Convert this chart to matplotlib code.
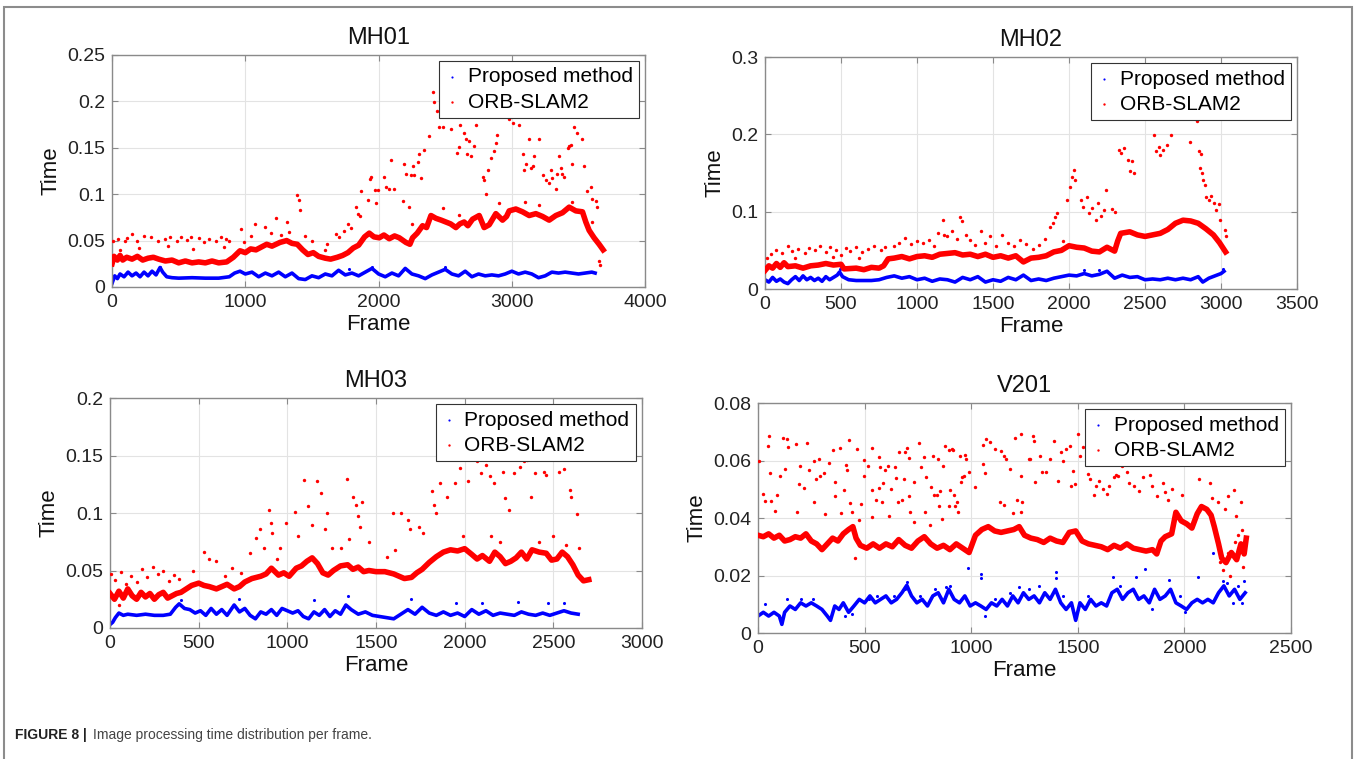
import matplotlib.pyplot as plt
from matplotlib.patches import Rectangle
from matplotlib.ticker import FuncFormatter

plt.rcParams['font.family'] = ['Liberation Sans', 'DejaVu Sans']

# ---- MH01 ----
mh01_prop = [(0, .004), (20, .012), (40, .009), (60, .014), (90, .011), (120, .016), (150, .012),
             (180, .015), (210, .011), (240, .016), (270, .012), (300, .017), (330, .013), (360, .021),
             (380, .016), (410, .011), (450, .010), (500, .0095), (600, .010), (700, .0095), (800, .0095),
             (880, .011), (920, .015), (960, .017), (1000, .014), (1050, .016), (1100, .011), (1150, .015),
             (1200, .012), (1250, .016), (1300, .011), (1350, .015), (1400, .009), (1450, .008), (1500, .012),
             (1550, .010), (1600, .014), (1650, .012), (1700, .018), (1750, .013), (1800, .015), (1850, .012),
             (1900, .016), (1950, .020), (2000, .014), (2050, .011), (2100, .015), (2150, .012), (2200, .020),
             (2250, .014), (2300, .012), (2350, .009), (2400, .013), (2450, .016), (2500, .019), (2550, .014),
             (2600, .012), (2650, .017), (2700, .011), (2750, .014), (2800, .012), (2850, .013), (2900, .012),
             (2950, .014), (3000, .017), (3050, .014), (3100, .016), (3150, .014), (3200, .010), (3250, .012),
             (3300, .016), (3350, .015), (3400, .016), (3450, .015), (3500, .014), (3550, .015), (3600, .016),
             (3625, .015)]
mh01_prop_out = [(1780, .019), (2500, .022), (1950, .021), (360, .022)]
mh01_orb = [(0, .025), (15, .033), (40, .029), (60, .034), (80, .029), (110, .032), (150, .030), (190, .033),
            (230, .029), (270, .031), (310, .032), (350, .030), (400, .028), (450, .029), (500, .026),
            (550, .028), (600, .026), (650, .027), (700, .026), (750, .028), (800, .026), (860, .027),
            (910, .032), (960, .039), (1000, .037), (1040, .041), (1080, .040), (1120, .043), (1160, .046),
            (1200, .044), (1260, .048), (1310, .050), (1350, .047), (1390, .046), (1430, .040), (1470, .035),
            (1510, .037), (1550, .033), (1600, .031), (1640, .030), (1690, .032), (1730, .034), (1770, .037),
            (1810, .042), (1850, .045), (1895, .054), (1930, .058), (1965, .054), (2005, .053), (2040, .056),
            (2080, .052), (2120, .055), (2155, .053), (2205, .048), (2235, .046), (2255, .053), (2290, .058),
            (2330, .066), (2360, .064), (2393, .077), (2430, .074), (2470, .072), (2505, .070), (2540, .068),
            (2580, .064), (2610, .068), (2642, .070), (2670, .066), (2705, .073), (2755, .077), (2792, .064),
            (2830, .067), (2880, .079), (2930, .072), (2960, .076), (2980, .082), (3030, .084), (3080, .081),
            (3130, .077), (3180, .079), (3230, .076), (3280, .072), (3330, .077), (3380, .080), (3430, .086),
            (3480, .082), (3530, .081), (3555, .070), (3580, .061), (3617, .053), (3655, .046), (3685, .040)]
mh01_orb_out = [(5, .050), (47, .052), (98, .050), (113, .053), (151, .057), (189, .050), (239, .055),
                (290, .054), (346, .050), (396, .052), (434, .054), (484, .050), (514, .054), (564, .051),
                (595, .054), (653, .053), (690, .049), (731, .052), (781, .050), (819, .054), (857, .052),
                (874, .050), (60, .040), (200, .042), (420, .044), (610, .041), (840, .043),
                (967, .062), (987, .048), (1076, .068), (1151, .065), (1227, .074), (1315, .070), (1328, .059),
                (1391, .099), (1400, .094), (1408, .083), (1040, .055), (1190, .058), (1270, .056), (1450, .055),
                (1500, .050), (1612, .046), (1680, .057), (1700, .054), (1770, .068), (1795, .064), (1832, .086),
                (1845, .079), (1858, .077), (1870, .103), (1920, .094), (1933, .116), (1945, .119), (1970, .104),
                (1983, .090), (1996, .104), (1600, .040), (1740, .060),
                (2042, .119), (2055, .108), (2080, .106), (2092, .137), (2117, .106), (2180, .093), (2192, .133),
                (2205, .122), (2230, .086), (2242, .121), (2255, .130), (2267, .121), (2292, .135), (2305, .143),
                (2317, .117), (2342, .148), (2380, .163), (2405, .210), (2418, .199), (2442, .190), (2455, .172),
                (2480, .172), (2542, .170), (2592, .144), (2605, .151), (2612, .175), (2642, .166), (2655, .159),
                (2667, .143), (2680, .157), (2692, .141), (2717, .152), (2730, .175), (2780, .119), (2792, .115),
                (2805, .100), (2818, .126), (2843, .139), (2868, .146), (2892, .164), (2880, .155), (2980, .181),
                (3005, .177), (3055, .175), (3080, .143), (3092, .126), (3105, .132), (3130, .159), (3142, .128),
                (3155, .130), (3168, .141), (3205, .159), (3230, .121), (3255, .115), (3280, .112), (3292, .126),
                (3305, .117), (3330, .106), (3342, .122), (3355, .141), (3367, .128), (3380, .122), (3392, .119),
                (3418, .150), (3430, .152), (3442, .153), (3455, .132), (3467, .172), (3492, .166), (3530, .159),
                (3542, .130), (3567, .103), (3592, .108), (3605, .095), (3630, .093), (3642, .086), (3655, .028),
                (3660, .024), (2250, .068), (2480, .085), (2600, .078), (2900, .090), (3100, .092), (3200, .088),
                (3450, .092), (3600, .070)]

# ---- MH02 ----
mh02_prop = [(0, .012), (25, .009), (50, .015), (75, .010), (100, .013), (125, .009), (150, .007), (175, .012),
             (200, .016), (225, .011), (250, .017), (275, .012), (300, .015), (325, .011), (350, .014),
             (375, .010), (400, .016), (425, .012), (450, .015), (475, .018), (490, .022), (510, .016),
             (550, .012), (600, .011), (650, .011), (700, .011), (750, .012), (800, .015), (850, .017),
             (900, .014), (950, .016), (1000, .012), (1050, .014), (1100, .010), (1150, .013), (1200, .012),
             (1250, .009), (1300, .015), (1350, .012), (1400, .016), (1450, .009), (1500, .012), (1550, .010),
             (1600, .015), (1650, .012), (1700, .018), (1750, .011), (1800, .013), (1850, .011), (1900, .014),
             (1950, .016), (2000, .018), (2050, .017), (2100, .020), (2150, .017), (2200, .019), (2250, .023),
             (2300, .014), (2350, .018), (2400, .015), (2450, .016), (2500, .012), (2550, .013), (2600, .012),
             (2650, .014), (2700, .012), (2750, .014), (2800, .012), (2850, .016), (2880, .009), (2920, .014),
             (2960, .017), (3000, .020), (3020, .023)]
mh02_prop_out = [(490, .026), (2100, .025), (2200, .025), (3010, .026)]
mh02_orb = [(0, .024), (25, .030), (50, .027), (75, .033), (100, .028), (125, .034), (150, .029), (200, .030),
            (250, .027), (300, .030), (350, .031), (400, .033), (450, .031), (500, .032), (520, .026),
            (600, .027), (650, .025), (700, .028), (750, .027), (780, .030), (810, .039), (850, .040),
            (900, .042), (950, .039), (1000, .042), (1050, .043), (1100, .041), (1150, .045), (1200, .046),
            (1250, .047), (1300, .044), (1350, .045), (1400, .042), (1450, .045), (1500, .041), (1550, .043),
            (1600, .040), (1650, .043), (1700, .035), (1750, .040), (1800, .041), (1850, .043), (1900, .048),
            (1950, .050), (2000, .056), (2050, .054), (2100, .053), (2150, .049), (2200, .048), (2250, .054),
            (2300, .049), (2320, .062), (2340, .072), (2400, .074), (2450, .070), (2500, .068), (2550, .070),
            (2600, .072), (2650, .077), (2700, .085), (2750, .089), (2800, .088), (2850, .085), (2900, .078),
            (2950, .070), (2990, .060), (3030, .048)]
mh02_orb_out = [(10, .040), (40, .045), (70, .050), (110, .047), (150, .055), (180, .049), (220, .052),
                (260, .046), (290, .053), (330, .050), (360, .055), (400, .048), (430, .054), (470, .051),
                (500, .044), (530, .053), (560, .049), (600, .054), (640, .048), (680, .052), (720, .056),
                (760, .050), (790, .054), (200, .040), (450, .042), (620, .040),
                (850, .055), (880, .060), (920, .066), (960, .058), (1000, .062), (1040, .060), (1080, .063),
                (1110, .055), (1140, .072), (1170, .089), (1180, .070), (1200, .068), (1230, .075), (1260, .065),
                (1283, .093), (1295, .088), (1320, .070), (1350, .064), (1380, .057), (1420, .075), (1450, .060),
                (1480, .068), (1520, .055), (1560, .070), (1600, .060), (1640, .055), (1680, .063), (1720, .058),
                (1760, .052), (1800, .057), (1840, .065), (1878, .080), (1895, .085), (1906, .093), (1920, .098),
                (1960, .062), (1990, .115), (2005, .132), (2020, .145), (2033, .154), (2040, .141), (2076, .115),
                (2090, .106), (2118, .119), (2130, .098), (2150, .105), (2175, .089), (2190, .111), (2210, .095),
                (2230, .102), (2246, .128), (2280, .104), (2300, .100), (2331, .180), (2345, .176), (2359, .182),
                (2387, .167), (2400, .152), (2415, .165), (2430, .150), (2557, .199), (2571, .178), (2590, .184),
                (2600, .173), (2620, .180), (2642, .186), (2670, .199), (2798, .190), (2840, .217), (2855, .178),
                (2870, .175), (2862, .156), (2875, .150), (2883, .141), (2895, .134), (2902, .119), (2920, .115),
                (2935, .120), (2954, .111), (2970, .102), (2985, .110), (2996, .089), (3025, .076), (3030, .068)]

# ---- MH03 ----
mh03_prop = [(0, .003), (15, .005), (30, .009), (50, .013), (75, .011), (100, .012), (150, .011), (200, .012),
             (250, .011), (300, .011), (340, .012), (370, .018), (390, .021), (420, .017), (450, .016),
             (480, .013), (510, .015), (540, .011), (570, .017), (600, .012), (630, .016), (660, .011),
             (700, .020), (730, .014), (760, .017), (790, .011), (820, .008), (850, .014), (880, .012),
             (910, .016), (940, .011), (970, .017), (1000, .015), (1030, .013), (1060, .015), (1090, .010),
             (1120, .008), (1150, .014), (1180, .011), (1210, .016), (1240, .010), (1270, .015), (1300, .012),
             (1330, .020), (1360, .016), (1400, .012), (1440, .014), (1480, .011), (1520, .010), (1560, .009),
             (1600, .008), (1640, .012), (1680, .016), (1720, .012), (1760, .018), (1800, .013), (1840, .011),
             (1880, .014), (1920, .011), (1960, .013), (2000, .010), (2040, .016), (2080, .012), (2120, .015),
             (2160, .011), (2200, .013), (2240, .012), (2280, .011), (2320, .014), (2360, .012), (2400, .011),
             (2440, .013), (2480, .011), (2520, .013), (2560, .015), (2600, .013), (2640, .012)]
mh03_prop_out = [(730, .025), (1340, .028), (1700, .025), (1950, .022), (2100, .022), (2300, .023),
                 (2470, .022), (2560, .022), (400, .024), (1150, .024)]
mh03_orb = [(0, .030), (25, .025), (50, .032), (75, .026), (100, .034), (125, .028), (150, .025), (175, .031),
            (200, .027), (225, .030), (250, .025), (275, .029), (300, .031), (325, .026), (350, .028),
            (375, .030), (400, .031), (430, .034), (460, .037), (500, .039), (530, .037), (560, .036),
            (600, .034), (630, .036), (660, .038), (700, .034), (730, .036), (760, .040), (800, .043),
            (850, .045), (880, .047), (910, .052), (950, .046), (980, .048), (1010, .045), (1050, .052),
            (1080, .054), (1110, .058), (1140, .061), (1170, .056), (1200, .048), (1230, .046), (1260, .050),
            (1300, .054), (1340, .055), (1370, .051), (1400, .053), (1430, .049), (1460, .050), (1500, .049),
            (1550, .049), (1600, .047), (1630, .045), (1660, .043), (1700, .044), (1730, .048), (1760, .051),
            (1800, .057), (1840, .062), (1880, .066), (1920, .068), (1960, .067), (2000, .069), (2040, .064),
            (2070, .060), (2100, .063), (2140, .058), (2170, .066), (2200, .062), (2230, .056), (2260, .058),
            (2290, .061), (2320, .066), (2350, .060), (2380, .068), (2420, .066), (2460, .065), (2490, .059),
            (2520, .060), (2550, .066), (2580, .062), (2610, .055), (2640, .046), (2670, .041), (2700, .042)]
mh03_orb_out = [(5, .047), (30, .042), (60, .049), (90, .038), (120, .045), (150, .040), (180, .051),
                (210, .044), (240, .053), (270, .047), (300, .050), (330, .041), (360, .046), (390, .043),
                (50, .020), (470, .050), (530, .066), (560, .060), (600, .058), (650, .045), (690, .052),
                (740, .048), (787, .065), (823, .078), (848, .086), (870, .070), (897, .103), (905, .091),
                (915, .083), (940, .060), (994, .091), (960, .070), (1043, .101), (1060, .080), (1092, .129),
                (1116, .106), (1140, .090), (1165, .128), (1190, .117), (1214, .086), (1226, .100), (1250, .070),
                (1336, .130), (1348, .077), (1373, .114), (1385, .107), (1400, .097), (1422, .110), (1410, .088),
                (1460, .075), (1300, .070), (1593, .100), (1605, .068), (1641, .100), (1678, .094), (1690, .086),
                (1740, .088), (1764, .083), (1560, .062), (1813, .119), (1825, .107), (1837, .100), (1861, .126),
                (1898, .114), (1947, .126), (1971, .139), (2008, .148), (2020, .128), (1990, .080), (2069, .145),
                (2094, .135), (2118, .142), (2142, .132), (2167, .126), (2216, .136), (2228, .113), (2252, .103),
                (2277, .135), (2150, .080), (2200, .075), (2313, .140), (2335, .145), (2350, .146), (2375, .114),
                (2399, .135), (2448, .136), (2460, .133), (2497, .080), (2533, .136), (2558, .138), (2594, .120),
                (2601, .114), (2631, .099), (2643, .070), (2420, .075), (2570, .072)]

# ---- V201 ----
v201_prop = [(0, .0059), (25, .0072), (50, .0059), (75, .0072), (100, .0059), (112, .0030), (125, .0072),
             (150, .0094), (175, .0082), (200, .0105), (225, .0094), (250, .0105), (275, .0094), (300, .0082),
             (325, .0059), (340, .0044), (360, .0094), (380, .0082), (400, .0105), (425, .0072), (450, .0094),
             (475, .0117), (500, .0105), (525, .0129), (550, .0105), (575, .0117), (600, .0129), (625, .0105),
             (650, .0117), (675, .0140), (698, .0166), (720, .0129), (745, .0105), (770, .0117), (795, .0094),
             (820, .0129), (845, .0140), (870, .0105), (895, .0152), (920, .0117), (945, .0105), (970, .0129),
             (995, .0094), (1020, .0105), (1045, .0094), (1070, .0082), (1095, .0105), (1120, .0094),
             (1145, .0117), (1170, .0094), (1195, .0129), (1220, .0105), (1245, .0140), (1270, .0117),
             (1295, .0129), (1320, .0105), (1345, .0140), (1370, .0117), (1395, .0152), (1420, .0105),
             (1445, .0082), (1470, .0105), (1490, .0044), (1510, .0105), (1535, .0082), (1560, .0117),
             (1585, .0094), (1610, .0105), (1635, .0094), (1660, .0140), (1685, .0152), (1710, .0117),
             (1735, .0140), (1760, .0152), (1785, .0117), (1810, .0129), (1835, .0105), (1860, .0152),
             (1885, .0117), (1910, .0129), (1935, .0152), (1960, .0105), (1985, .0094), (2010, .0082),
             (2035, .0105), (2060, .0117), (2085, .0105), (2110, .0117), (2135, .0105), (2160, .0140),
             (2185, .0164), (2210, .0129), (2235, .0152), (2260, .0117), (2285, .0140)]
v201_prop_out = [(34, .0102), (136, .0120), (200, .0117), (260, .0120), (410, .0059), (440, .0065),
                 (520, .0117), (560, .0129), (640, .0129), (690, .0152), (700, .0177), (760, .0130),
                 (830, .0152), (880, .0160), (900, .0164), (983, .0226), (1047, .0206), (1047, .0192),
                 (1066, .0060), (1110, .0117), (1180, .0140), (1225, .0160), (1270, .0152), (1320, .0164),
                 (1399, .0212), (1399, .0190), (1430, .0129), (1485, .0056), (1550, .0129), (1663, .0194),
                 (1700, .0164), (1771, .0194), (1817, .0223), (1850, .0082), (1926, .0183), (1980, .0129),
                 (2003, .0073), (2065, .0194), (2135, .0280), (2180, .0180), (2200, .0175), (2250, .0164),
                 (2280, .0180), (2230, .0105), (2270, .0105)]
v201_orb = [(0, .0340), (25, .0335), (50, .0345), (75, .0330), (100, .0340), (125, .0320), (150, .0325),
            (175, .0335), (200, .0330), (225, .0345), (250, .0320), (275, .0310), (300, .0290), (325, .0310),
            (350, .0330), (375, .0320), (400, .0345), (425, .0360), (445, .0370), (460, .0330), (480, .0305),
            (510, .0295), (540, .0310), (570, .0295), (600, .0310), (630, .0300), (660, .0325), (690, .0305),
            (720, .0295), (750, .0320), (780, .0335), (810, .0310), (840, .0295), (870, .0305), (900, .0290),
            (930, .0310), (960, .0295), (990, .0280), (1020, .0340), (1050, .0360), (1080, .0370),
            (1110, .0355), (1140, .0350), (1170, .0355), (1200, .0360), (1225, .0370), (1250, .0340),
            (1280, .0330), (1310, .0325), (1340, .0315), (1370, .0330), (1400, .0320), (1430, .0315),
            (1460, .0350), (1490, .0355), (1520, .0320), (1550, .0310), (1580, .0305), (1610, .0300),
            (1640, .0290), (1670, .0305), (1700, .0295), (1730, .0310), (1760, .0295), (1790, .0290),
            (1820, .0285), (1850, .0290), (1870, .0275), (1890, .0320), (1910, .0335), (1940, .0345),
            (1960, .0420), (1985, .0390), (2010, .0380), (2035, .0365), (2060, .0415), (2080, .0440),
            (2105, .0430), (2125, .0410), (2140, .0370), (2160, .0310), (2175, .0260), (2195, .0245),
            (2220, .0280), (2245, .0255), (2265, .0310), (2280, .0275), (2290, .0330)]
v201_orb_out = [(50, .0686), (47, .0650), (6, .0597), (58, .0556), (22, .0484), (31, .0460), (62, .0460),
                (89, .0480), (81, .0426), (105, .0547), (117, .0677), (128, .0570), (136, .0675), (139, .0646),
                (180, .0657), (183, .0420), (191, .0518), (198, .0582), (214, .0503), (230, .0660), (241, .0568),
                (261, .0457), (261, .0597), (273, .0536), (288, .0605), (292, .0547), (311, .0557), (316, .0414),
                (334, .0591), (350, .0638), (363, .0478), (363, .0524), (383, .0644), (391, .0417), (403, .0499),
                (413, .0584), (417, .0568), (425, .0671), (430, .0453), (441, .0420), (455, .0260), (464, .0640),
                (472, .0394), (484, .0448), (495, .0603), (495, .0545), (514, .0581), (534, .0642), (534, .0403),
                (537, .0499), (553, .0464), (566, .0611), (569, .0503), (573, .0579), (581, .0457), (586, .0522),
                (597, .0568), (609, .0580), (616, .0406), (625, .0501), (641, .0576), (647, .0538), (656, .0457),
                (662, .0631), (675, .0461), (683, .0536), (688, .0628), (700, .0644), (706, .0478), (709, .0608),
                (711, .0422), (730, .0527), (734, .0385), (753, .0660), (764, .0579), (777, .0611), (784, .0422),
                (787, .0542), (805, .0377), (811, .0507), (820, .0617), (827, .0480), (839, .0480), (844, .0605),
                (850, .0443), (855, .0495), (863, .0395), (870, .0580), (878, .0652), (894, .0638), (898, .0443),
                (902, .0498), (909, .0640), (914, .0638), (920, .0480), (925, .0443), (933, .0455), (938, .0422),
                (948, .0615), (953, .0524), (959, .0542), (964, .0547), (972, .0619), (975, .0605), (988, .0561),
                (1019, .0507), (1055, .0654), (1055, .0587), (1069, .0675), (1089, .0663), (1066, .0557),
                (1113, .0640), (1141, .0634), (1156, .0617), (1163, .0605), (1183, .0571), (1206, .0677),
                (1233, .0694), (1233, .0547), (1136, .0457), (1156, .0446), (1198, .0418), (1214, .0464),
                (1238, .0457), (1233, .0422), (1272, .0605), (1292, .0686), (1297, .0524), (1294, .0669),
                (1322, .0615), (1276, .0605), (1334, .0561), (1353, .0561), (1368, .0605), (1389, .0667),
                (1407, .0528), (1422, .0628), (1430, .0597), (1446, .0640), (1461, .0652), (1477, .0565),
                (1469, .0510), (1485, .0519), (1500, .0692), (1508, .0617), (1523, .0646), (1546, .0553),
                (1559, .0536), (1577, .0480), (1585, .0513), (1601, .0530), (1616, .0501), (1639, .0484),
                (1647, .0513), (1670, .0542), (1678, .0551), (1690, .0545), (1709, .0580), (1732, .0559),
                (1740, .0522), (1763, .0510), (1786, .0495), (1805, .0542), (1840, .0550), (1848, .0513),
                (1871, .0478), (1898, .0522), (1910, .0490), (1923, .0461), (1944, .0501), (1988, .0480),
                (2070, .0536), (2119, .0522), (2158, .0455), (2189, .0432), (2204, .0478), (2232, .0499),
                (2263, .0455), (2243, .0408), (2127, .0469), (2166, .0247), (2180, .0220), (2189, .0258),
                (2204, .0280), (2235, .0316), (2250, .0340), (2268, .0360), (2212, .0200), (2275, .0230)]

# name, proposed, proposed extra dots, orb, orb extra dots, xmax, xstep, ymax, ystep, axes rect
panels = [
    ('MH01', mh01_prop, mh01_prop_out, mh01_orb, mh01_orb_out, 4000, 1000, 0.25, 0.05,
     [0.0827, 0.6219, 0.3934, 0.3057]),
    ('MH02', mh02_prop, mh02_prop_out, mh02_orb, mh02_orb_out, 3500, 500, 0.3, 0.1,
     [0.5646, 0.6192, 0.3926, 0.3057]),
    ('MH03', mh03_prop, mh03_prop_out, mh03_orb, mh03_orb_out, 3000, 500, 0.2, 0.05,
     [0.0812, 0.1726, 0.3926, 0.3030]),
    ('V201', v201_prop, v201_prop_out, v201_orb, v201_orb_out, 2500, 500, 0.08, 0.02,
     [0.5594, 0.1660, 0.3934, 0.3030]),
]

fig = plt.figure(figsize=(13.55, 7.59), dpi=100)
fmt = FuncFormatter(lambda v, p: '%g' % round(v, 4))

for name, prop, prop_out, orb, orb_out, xmax, xstep, ymax, ystep, rect in panels:
    ax = fig.add_axes(rect)
    x, y = zip(*prop)
    ax.plot(x, y, color='blue', lw=2.6, zorder=2)
    x, y = zip(*prop_out)
    hb = ax.scatter(x, y, s=5, color='blue', linewidths=0, zorder=2, label='Proposed method')
    x, y = zip(*orb)
    ax.plot(x, y, color='red', lw=4.0, zorder=3)
    x, y = zip(*orb_out)
    hr = ax.scatter(x, y, s=6, color='red', linewidths=0, zorder=3, label='ORB-SLAM2')

    ax.set_xlim(0, xmax)
    ax.set_ylim(0, ymax)
    ax.set_xticks(range(0, xmax + 1, xstep))
    n = int(round(ymax / ystep))
    ax.set_yticks([i * ystep for i in range(n + 1)])
    ax.yaxis.set_major_formatter(fmt)
    ax.grid(True, color='#e3e3e3', lw=0.8)
    ax.set_axisbelow(True)
    for sp in ax.spines.values():
        sp.set_color('#8a8a8a')
        sp.set_linewidth(1.0)
    ax.tick_params(direction='in', length=4, width=0.8, color='#8a8a8a', labelsize=14,
                   labelcolor='#222222', top=True, right=True, pad=5)
    ax.set_title(name, fontsize=17, pad=8, color='#111111')
    ax.set_xlabel('Frame', fontsize=16, labelpad=2, color='#111111')
    ax.set_ylabel('Time', fontsize=16, labelpad=4, color='#111111')
    leg = ax.legend(handles=[hb, hr], loc='upper right', fontsize=15, fancybox=False,
                    edgecolor='#333333', framealpha=1, handlelength=0.6, handletextpad=0.45,
                    borderpad=0.3, labelspacing=0.3, borderaxespad=0.3, markerscale=0.7)
    leg.get_frame().set_linewidth(0.8)

# outer frame of the figure panel
fig.add_artist(Rectangle((4 / 1355, -0.05), 1348 / 1355, 1.05 - 7 / 759, transform=fig.transFigure,
                         fill=False, edgecolor='#8c8c8c', lw=1.5))

fig.text(15 / 1355, 24 / 759, 'FIGURE 8 |', fontsize=10, fontweight='bold', color='#222222',
         va='center', ha='left')
fig.text(93 / 1355, 24 / 759, 'Image processing time distribution per frame.', fontsize=10,
         color='#444444', va='center', ha='left')

fig.savefig('out.png', dpi=100)
